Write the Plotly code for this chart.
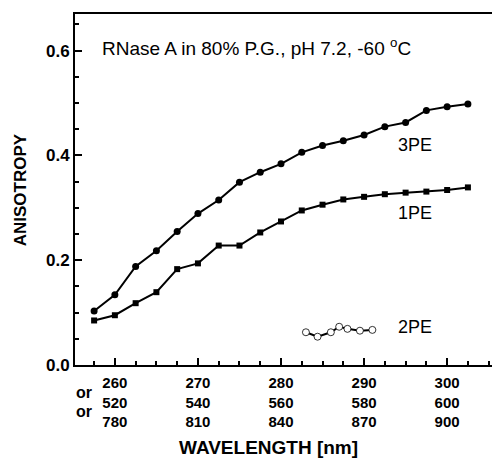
import plotly.graph_objects as go

# Data
wl_3pe = [257.5, 260, 262.5, 265, 267.5, 270, 272.5, 275, 277.5, 280, 282.5,
          285, 287.5, 290, 292.5, 295, 297.5, 300, 302.5]
an_3pe = [0.103, 0.134, 0.188, 0.218, 0.255, 0.289, 0.315, 0.349, 0.368, 0.384,
          0.406, 0.419, 0.428, 0.439, 0.455, 0.463, 0.486, 0.493, 0.498]
wl_1pe = wl_3pe
an_1pe = [0.085, 0.095, 0.118, 0.139, 0.183, 0.194, 0.228, 0.228, 0.253, 0.274,
          0.295, 0.306, 0.316, 0.321, 0.326, 0.329, 0.331, 0.334, 0.339]
wl_2pe = [283.0, 284.4, 286.0, 287.0, 288.0, 289.5, 291.0]
an_2pe = [0.0625, 0.054, 0.0625, 0.073, 0.069, 0.0655, 0.067]

x_tickvals = [260, 270, 280, 290, 300]
x_ticktext = ["260<br>520<br>780", "270<br>540<br>810", "280<br>560<br>840",
              "290<br>580<br>870", "300<br>600<br>900"]
y_tickvals = [0.0, 0.2, 0.4, 0.6]
y_ticktext = ["0.0", "0.2", "0.4", "0.6"]

FONT = "Liberation Sans, Arial, sans-serif"

fig = go.Figure()
fig.add_trace(go.Scatter(x=wl_3pe, y=an_3pe, mode="lines+markers", name="3PE",
                         line=dict(color="black", width=2),
                         marker=dict(symbol="circle", size=7, color="black")))
fig.add_trace(go.Scatter(x=wl_1pe, y=an_1pe, mode="lines+markers", name="1PE",
                         line=dict(color="black", width=2),
                         marker=dict(symbol="square", size=6, color="black")))
fig.add_trace(go.Scatter(x=wl_2pe, y=an_2pe, mode="lines+markers", name="2PE",
                         line=dict(color="black", width=2),
                         marker=dict(symbol="circle", size=7, color="white",
                                     line=dict(color="black", width=0.8))))

fig.update_layout(
    width=492, height=459,
    margin=dict(l=75, r=0, t=14, b=94, autoexpand=False),
    paper_bgcolor="white", plot_bgcolor="white",
    showlegend=False,
    font=dict(family=FONT, color="black"),
    xaxis=dict(
        range=[255.2, 305.4], showgrid=False, zeroline=False, automargin=False,
        showline=True, linecolor="black", linewidth=2, mirror=True,
        tickmode="array", tickvals=x_tickvals, ticktext=x_ticktext,
        ticks="inside", ticklen=7, tickwidth=1.5, tickcolor="black",
        ticklabelstandoff=3,
        minor=dict(dtick=2.5, tick0=257.5, ticks="inside", ticklen=4,
                   tickwidth=1.5, tickcolor="black"),
        tickfont=dict(family=FONT, size=15, weight="bold"),
    ),
    yaxis=dict(
        range=[0, 0.67], showgrid=False, zeroline=False, automargin=False,
        showline=True, linecolor="black", linewidth=2, mirror=False,
        tickmode="array", tickvals=y_tickvals, ticktext=y_ticktext,
        ticks="inside", ticklen=7, tickwidth=1.5, tickcolor="black",
        minor=dict(dtick=0.05, ticks="inside", ticklen=4,
                   tickwidth=1.5, tickcolor="black"),
        tickfont=dict(family=FONT, size=17, weight="bold"),
    ),
)

# axis titles
fig.add_annotation(text="WAVELENGTH [nm]", xref="paper", yref="paper",
                   x=0.464, y=-0.236, xanchor="center", yanchor="middle",
                   showarrow=False, font=dict(family=FONT, size=19, weight="bold"))
fig.add_annotation(text="ANISOTROPY", xref="paper", yref="paper",
                   x=-0.13, y=0.5, xanchor="center", yanchor="middle",
                   textangle=-90, showarrow=False,
                   font=dict(family=FONT, size=17, weight="bold"))

fig.add_annotation(text="RNase A in 80% P.G., pH 7.2, -60 <sup>o</sup>C",
                   xref="paper", yref="paper", x=0.06, y=0.905,
                   xanchor="left", yanchor="middle", showarrow=False,
                   font=dict(family=FONT, size=19))
for label, yv in [("3PE", 0.626), ("1PE", 0.433), ("2PE", 0.108)]:
    fig.add_annotation(text=label, xref="paper", yref="paper", x=0.77, y=yv,
                       xanchor="left", yanchor="middle", showarrow=False,
                       font=dict(family=FONT, size=18))
for yv in [-0.079, -0.133]:
    fig.add_annotation(text="or", xref="paper", yref="paper", x=-0.002, y=yv,
                       xanchor="left", yanchor="middle", showarrow=False,
                       font=dict(family=FONT, size=16, weight="bold"))

fig.write_html("out.html", config={"displayModeBar": False},
               post_script="document.body.style.margin='0';document.body.style.overflow='hidden';")
